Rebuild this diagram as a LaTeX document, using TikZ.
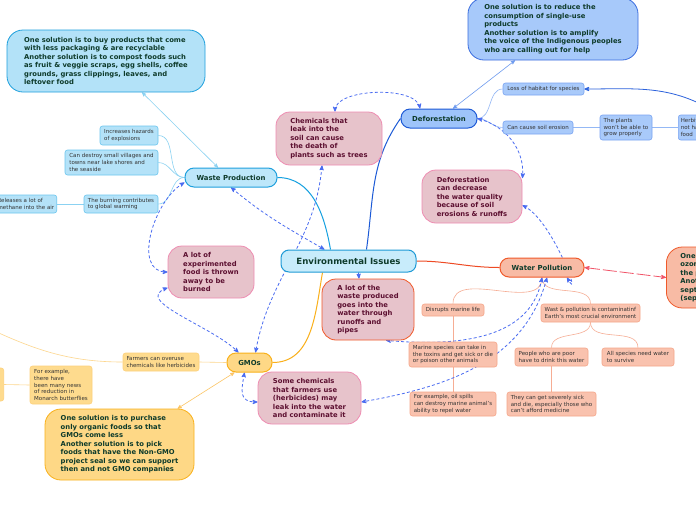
\documentclass[tikz,border=0pt]{standalone}
\usepackage{fontspec}
\setmainfont{DejaVu Sans}
\usepackage{xcolor}
\usepackage{tikz}
\usetikzlibrary{arrows, calc, backgrounds}

\definecolor{envfill}{HTML}{C8ECFB}
\definecolor{envline}{HTML}{1E9AD6}
\definecolor{titlegreen}{HTML}{0E3B2B}
\definecolor{notered}{HTML}{5C0F30}
\definecolor{leaftext}{HTML}{333333}
\definecolor{wastefill}{HTML}{BDE7FA}
\definecolor{wasteline}{HTML}{1FA0DD}
\definecolor{wastesolfill}{HTML}{B3E2F8}
\definecolor{wasteleaffill}{HTML}{B4E2F8}
\definecolor{wasteleafline}{HTML}{6CC6EE}
\definecolor{wastetwig}{HTML}{8BD2F2}
\definecolor{wastebranch}{HTML}{15A0E0}
\definecolor{deffill}{HTML}{9EC4FA}
\definecolor{defline}{HTML}{1E5AD6}
\definecolor{defsolfill}{HTML}{A7C9FA}
\definecolor{defsolline}{HTML}{3B6DDF}
\definecolor{defleaffill}{HTML}{A9CAFA}
\definecolor{defleafline}{HTML}{7AA4F2}
\definecolor{deftwig}{HTML}{94B8F5}
\definecolor{deflink}{HTML}{6E9BEF}
\definecolor{defbranch}{HTML}{1C5AD6}
\definecolor{pinkfill}{HTML}{E7C3CB}
\definecolor{pinkline}{HTML}{EE8DB2}
\definecolor{runoffline}{HTML}{F15A2A}
\definecolor{waterfill}{HTML}{F8BBA5}
\definecolor{waterline}{HTML}{EF5A2B}
\definecolor{waterleaffill}{HTML}{F9C2AE}
\definecolor{waterleafline}{HTML}{F5A68A}
\definecolor{watertwig}{HTML}{F6AD94}
\definecolor{waterbranch}{HTML}{EE4A24}
\definecolor{solred}{HTML}{F15468}
\definecolor{gmofill}{HTML}{FED886}
\definecolor{gmoline}{HTML}{F9B11B}
\definecolor{gmoleaffill}{HTML}{FEDB8E}
\definecolor{gmoleafline}{HTML}{FDD17C}
\definecolor{gmotwig}{HTML}{FDD68C}
\definecolor{gmolink}{HTML}{FCC565}
\definecolor{gmobranch}{HTML}{FAB01B}
\definecolor{relblue}{HTML}{4A6CF1}
\definecolor{linkblue}{HTML}{2C62DC}

\begin{document}
\begin{tikzpicture}[x=1pt, y=1pt,
				>=stealth',
				central/.style={draw=envline, fill=envfill, line width=1pt, rounded corners=8pt,
					font=\fontsize{8.6}{10}\selectfont\bfseries, text=titlegreen,
					minimum width=135pt, minimum height=22pt},
				topic/.style={line width=1pt, rounded corners=9pt,
					font=\fontsize{6.9}{8}\selectfont\bfseries, text=titlegreen, minimum height=19pt},
				solution/.style={line width=0.8pt, rounded corners=16pt,
					font=\fontsize{6.8}{8.5}\selectfont\bfseries, text=titlegreen, align=left},
				note/.style={draw=pinkline, fill=pinkfill, line width=0.8pt, rounded corners=14pt,
					font=\fontsize{6.8}{8.5}\selectfont\bfseries, text=notered, align=left},
				leaf/.style={line width=0.6pt, rounded corners=2.5pt, inner sep=2.5pt,
					font=\fontsize{5.5}{6.6}\selectfont, text=leaftext, align=left},
				wleaf/.style={leaf, draw=wasteleafline, fill=wasteleaffill},
				dleaf/.style={leaf, draw=defleafline, fill=defleaffill},
				pleaf/.style={leaf, draw=waterleafline, fill=waterleaffill},
				gleaf/.style={leaf, draw=gmoleafline, fill=gmoleaffill},
				branch/.style={line width=1pt},
				twig/.style={line width=0.6pt},
				rel/.style={<->, draw=relblue, line width=0.8pt, dash pattern=on 3pt off 2.2pt}]
				\useasboundingbox (0,0) rectangle (696,-520);
				% centre and main topics
				\node at (348.5,-261) (env) [central] {Environmental Issues};
				\node at (231,-177.5) (waste) [topic, draw=wasteline, fill=wastefill, minimum width=92pt] {Waste Production};
				\node at (439,-118.5) (defor) [topic, draw=defline, fill=deffill, minimum width=76pt] {Deforestation};
				\node at (542,-267.5) (water) [topic, draw=waterline, fill=waterfill, minimum width=84pt] {Water Pollution};
				\node at (249.5,-362.5) (gmo) [topic, draw=gmoline, fill=gmofill, minimum width=45pt] {GMOs};
				% solutions
				\node at (106,-61) (wastesol) [solution, draw=wasteline, fill=wastesolfill, minimum width=198pt, minimum height=62pt]
					{One solution is to buy products that come\\with less packaging \& are recyclable\\Another solution is to compost foods such\\as fruit \& veggie scraps, egg shells, coffee\\grounds, grass clippings, leaves, and\\leftover food};
				\node at (553,-29) (defsol) [solution, draw=defsolline, fill=defsolfill, minimum width=170pt, minimum height=62pt]
					{One solution is to reduce the\\consumption of single-use\\products\\Another solution is to amplify\\the voice of the Indigenous peoples\\who are calling out for help};
				\node at (666,-277.5) (watsol) [solution, anchor=west, draw=waterline, fill=waterfill, inner xsep=14pt, minimum height=61pt]
					{One solution is to use\\ozone to clean\\the polluted water\\Another solution is to\\septic tanks\\(septic systems)};
				\node at (119.5,-444.5) (gmosol) [solution, draw=gmoline, fill=gmofill, minimum width=149pt, minimum height=71pt]
					{One solution is to purchase\\only organic foods so that\\GMOs come less\\Another solution is to pick\\foods that have the Non-GMO\\project seal so we can support\\then and not GMO companies};
				% notes
				\node at (329,-138.5) (chem) [note, minimum width=106pt, minimum height=53pt]
					{Chemicals that\\leak into the\\soil can cause\\the death of\\plants such as trees};
				\node at (472,-196.5) (wq) [note, minimum width=100pt, minimum height=53pt]
					{Deforestation\\can decrease\\the water quality\\because of soil\\erosions \& runoffs};
				\node at (211,-272) (food) [note, minimum width=86pt, minimum height=52pt]
					{A lot of\\experimented\\food is thrown\\away to be\\burned};
				\node at (368,-309.5) (runoff) [note, draw=runoffline, minimum width=92pt, minimum height=61pt]
					{A lot of the\\waste produced\\goes into the\\water through\\runoffs and\\pipes};
				\node at (309.5,-398) (somechem) [note, minimum width=103pt, minimum height=52pt]
					{Some chemicals\\that farmers use\\(herbicides) may\\leak into the water\\and contaminate it};
				% waste production leaves
				\node at (129,-135.5) (hazard) [wleaf, minimum width=58pt, minimum height=19pt] {Increases hazards\\of explosions};
				\node at (111.5,-162.5) (villages) [wleaf, minimum width=93pt, minimum height=25pt] {Can destroy small villages and\\towns near lake shores and\\the seaside};
				\node at (121,-204) (burning) [wleaf, minimum width=74pt, minimum height=18pt] {The burning contributes\\to global warming};
				\node at (57,-204) (methane) [wleaf, anchor=east, minimum height=18pt] {Releases a lot of\\methane into the air};
				% deforestation leaves
				\node at (543.5,-89) (habitat) [dleaf, minimum width=81pt, minimum height=12pt] {Loss of habitat for species};
				\node at (538,-127.5) (erosion) [dleaf, minimum width=70pt, minimum height=13pt] {Can cause soil erosion};
				\node at (626,-127.5) (plants) [dleaf, minimum width=52pt, minimum height=25pt] {The plants\\won't be able to\\grow properly};
				\node at (678,-127.5) (herb) [dleaf, anchor=west, minimum height=25pt] {Herbivores will\\not have enough\\food};
				\coordinate (herblink) at (712,-110);
				% water pollution leaves
				\node at (453,-310) (disrupt) [pleaf, minimum width=62pt, minimum height=12pt] {Disrupts marine life};
				\node at (590.5,-313) (wast) [pleaf, minimum width=99pt, minimum height=18pt] {Wast \& pollution is contaminatinf\\Earth's most crucial environment};
				\node at (453,-354.5) (marine) [pleaf, minimum width=88pt, minimum height=25pt] {Marine species can take in\\the toxins and get sick or die\\or poison other animals};
				\node at (551.5,-357) (poor) [pleaf, minimum width=73pt, minimum height=18pt] {People who are poor\\have to drink this water};
				\node at (638,-357) (allsp) [pleaf, minimum width=72pt, minimum height=18pt] {All species need water\\to survive};
				\node at (453,-404) (oil) [pleaf, minimum width=86pt, minimum height=24pt] {For example, oil spills\\can destroy marine animal's\\ability to repel water};
				\node at (551.5,-404) (sick) [pleaf, minimum width=89pt, minimum height=24pt] {They can get severely sick\\and die, especially those who\\can't afford medicine};
				% gmo leaves
				\node at (161,-362) (farmers) [gleaf, minimum width=76pt, minimum height=18pt] {Farmers can overuse\\chemicals like herbicides};
				\node at (61,-385) (monarch) [gleaf, minimum width=62pt, minimum height=38pt] {For example,\\there have\\been many news\\of reduction in\\Monarch butterflies};
				\node at (4,-384.5) (offgmo) [gleaf, anchor=east, minimum width=60pt, minimum height=33pt] {};
				\coordinate (farmleft) at (-40,-315);

				\begin{scope}[on background layer]
				\fill[white] (0,0) rectangle (696,-520);
				% main branches
				\draw[branch, wastebranch] (waste.east) to[out=0,in=100] ($(env.north)+(-18,0)$);
				\draw[branch, defbranch] ($(env.north)+(18,0)$) to[out=82,in=235] (defor.west);
				\draw[branch, waterbranch] (env.east) to[out=0,in=180] (water.west);
				\draw[branch, gmobranch] ($(env.south)+(-26,0)$) to[out=-100,in=0] (gmo.east);
				% sub branches
				\draw[twig, wastetwig] (waste.west) to[out=180,in=0] (hazard.east);
				\draw[twig, wastetwig] (waste.west) to[out=180,in=0] (villages.east);
				\draw[twig, wastetwig] (waste.west) to[out=180,in=0] (burning.east);
				\draw[twig, wastetwig] (burning.west) -- (methane.east);
				\draw[twig, deftwig] (defor.east) to[out=0,in=180] (habitat.west);
				\draw[twig, deftwig] (defor.east) to[out=0,in=180] (erosion.west);
				\draw[twig, deftwig] (erosion.east) -- (plants.west);
				\draw[twig, deftwig] (plants.east) -- (herb.west);
				\draw[twig, watertwig] (water.south) to[out=-90,in=90] (disrupt.north);
				\draw[twig, watertwig] (water.south) to[out=-90,in=90] (wast.north);
				\draw[twig, watertwig] (disrupt.south) -- (marine.north);
				\draw[twig, watertwig] (marine.south) -- (oil.north);
				\draw[twig, watertwig] (wast.south) to[out=-90,in=90] (poor.north);
				\draw[twig, watertwig] (wast.south) to[out=-90,in=90] (allsp.north);
				\draw[twig, watertwig] (poor.south) -- (sick.north);
				\draw[twig, gmotwig] (gmo.west) -- (farmers.east);
				\draw[twig, gmotwig] (farmers.west) to[out=180,in=-25] (farmleft);
				\draw[twig, gmotwig] (monarch.west) -- (offgmo.east);
				% solution links
				\draw[<->, twig, wastetwig] ($(waste.north)+(-13,0)$) -- ($(wastesol.south)+(36,0)$);
				\draw[<->, twig, deflink] ($(defor.north)+(14,0)$) -- ($(defsol.south)+(-38,0)$);
				\draw[<->, twig, gmolink] ($(gmo.south)+(-15,0)$) -- ($(gmosol.north)+(58,0)$);
				\draw[<->, solred, line width=0.8pt, dash pattern=on 14pt off 3pt] (water.east) -- (watsol.west);
				\draw[->, linkblue, line width=0.8pt] (herblink) to[out=150,in=0] (habitat.east);
				% relations
				\draw[rel] (waste.south) to[out=-40,in=150] ($(env.north)+(-24,0)$);
				\draw[rel] ($(waste.west)+(0,-5)$) to[out=210,in=180] (food.west);
				\draw[rel] (food.200) to[out=200,in=135] ($(gmo.north)+(-11,0)$);
				\draw[rel] ($(chem.north)+(6,0)$) to[out=90,in=100,looseness=0.7] ($(defor.north)+(-19,0)$);
				\draw[rel] ($(chem.south)+(-7,0)$) to[out=-95,in=80] ($(gmo.north)+(6,0)$);
				\draw[rel] (defor.east) to[out=-15,in=85] (wq.20);
				\draw[rel] (wq.-10) to[out=-25,in=-60] ($(water.south)+(25,0)$);
				\draw[rel] (water.south) to[out=-100,in=-5] ($(runoff.south)+(18,0)$);
				\draw[rel] ($(water.south)+(5,0)$) to[out=-105,in=10] ($(somechem.east)+(0,-4)$);
				\draw[rel, ->] ($(env.south)+(10,0)$) -- ($(runoff.north)+(-9,0)$);
				\draw[rel] ($(gmo.south)+(-5,0)$) to[out=-100,in=180,looseness=1.5] ($(somechem.west)+(0,-4)$);
				\end{scope}
			\end{tikzpicture}
\end{document}
